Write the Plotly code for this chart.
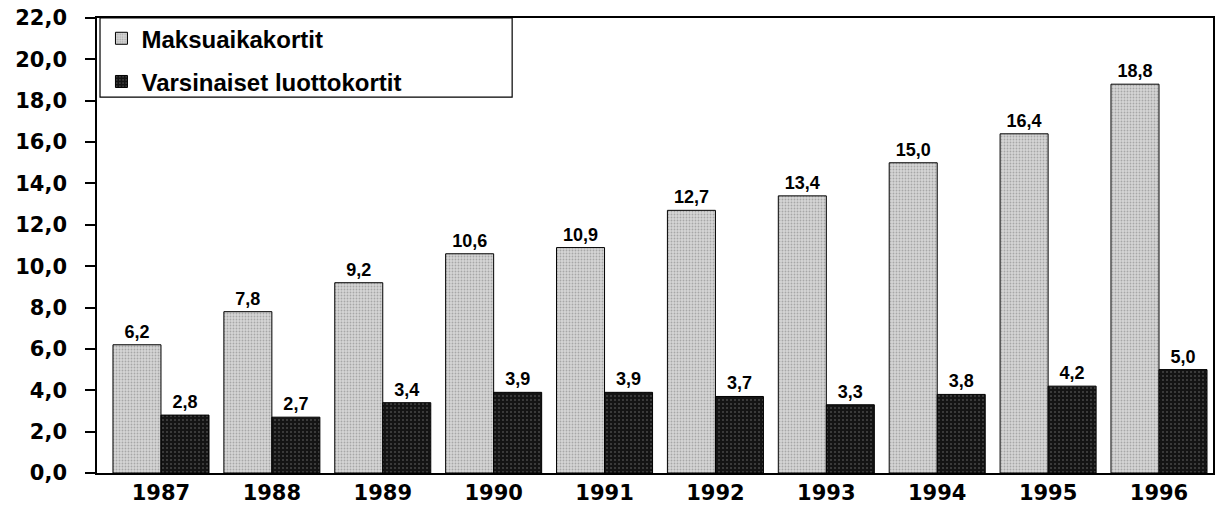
import plotly.graph_objects as go

years = ["1987", "1988", "1989", "1990", "1991", "1992", "1993", "1994", "1995", "1996"]
maksuaika = [6.2, 7.8, 9.2, 10.6, 10.9, 12.7, 13.4, 15.0, 16.4, 18.8]
varsinaiset = [2.8, 2.7, 3.4, 3.9, 3.9, 3.7, 3.3, 3.8, 4.2, 5.0]
series_names = ["Maksuaikakortit", "Varsinaiset luottokortit"]
y_ticks = [0, 2, 4, 6, 8, 10, 12, 14, 16, 18, 20, 22]

label_font = dict(family="Liberation Sans, Arial", size=18, color="black")

fig = go.Figure()
fig.add_trace(go.Bar(
    x=years, y=maksuaika, name=series_names[0], legendgroup="a",
    marker=dict(color="#c4c4c4", line=dict(color="black", width=1),
                pattern=dict(shape=".", size=3, solidity=0.3, fgcolor="#777777", bgcolor="#d6d6d6")),
    texttemplate="<b>%{y:.1f}</b>", textposition="outside", textfont=label_font, cliponaxis=False,
))
fig.add_trace(go.Bar(
    x=years, y=varsinaiset, name=series_names[1], legendgroup="b",
    marker=dict(color="#222222", line=dict(color="black", width=1),
                pattern=dict(shape=".", size=4, solidity=0.2, fgcolor="#7a7a7a", bgcolor="#141414")),
    texttemplate="<b>%{y:.1f}</b>", textposition="outside", textfont=label_font, cliponaxis=False,
))

fig.update_layout(
    width=1217, height=515,
    margin=dict(l=97, r=4, t=18, b=42),
    paper_bgcolor="white", plot_bgcolor="white",
    separators=",.",
    barmode="group", bargap=0.134, bargroupgap=0,
    showlegend=True,
    legend=dict(x=0.004, y=1.004, xanchor="left", yanchor="top",
                bgcolor="rgba(0,0,0,0)", borderwidth=0, tracegroupgap=9,
                font=dict(family="Liberation Sans, Arial", size=24, color="black", weight="bold")),
    xaxis=dict(type="category", range=[-0.577, 9.487], showline=True, linecolor="black", linewidth=1.5,
               mirror=True, ticks="", showgrid=False, automargin=False,
               tickfont=dict(family="DejaVu Sans, Arial", size=21, color="black", weight="bold")),
    yaxis=dict(range=[0, 22], tickvals=y_ticks, tickformat=".1f", showline=True, linecolor="black",
               linewidth=1.5, mirror=True, ticks="outside", ticklen=10, tickcolor="black", tickwidth=1.5,
               ticklabelstandoff=14, showgrid=False, zeroline=False, automargin=False,
               ticklabeloverflow="allow",
               tickfont=dict(family="DejaVu Sans, Arial", size=21, color="black", weight="bold")),
    shapes=[dict(type="rect", xref="paper", yref="paper", x0=0.0027, x1=0.372, y0=0.826, y1=1.0,
                 line=dict(color="black", width=1.2), fillcolor="rgba(0,0,0,0)", layer="above")],
    font=dict(family="Liberation Sans, Arial", color="black"),
)

fig.write_html("out.html", config={"displayModeBar": False},
               post_script="document.body.style.margin='0';document.body.style.overflow='hidden';")
